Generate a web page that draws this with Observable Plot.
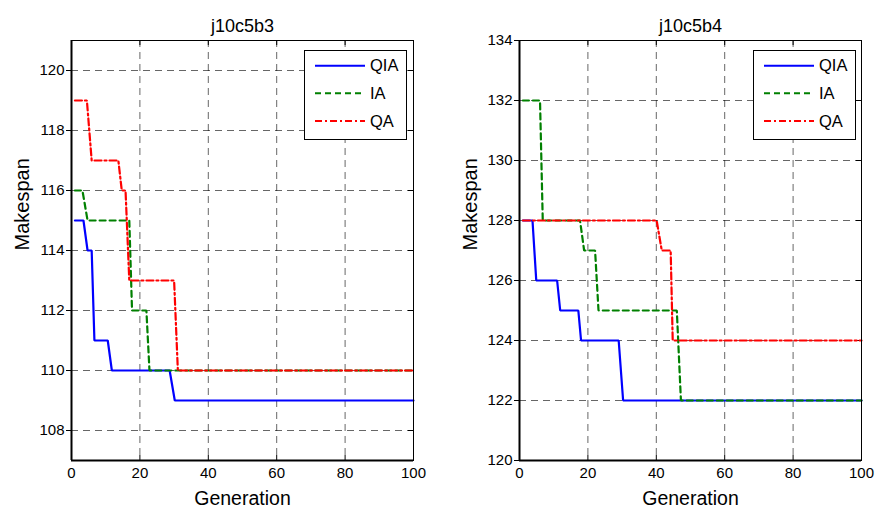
<!DOCTYPE html>
<html><head><meta charset="utf-8">
<script src="https://cdn.jsdelivr.net/npm/d3@7"></script>
<script src="https://cdn.jsdelivr.net/npm/@observablehq/plot@0.6"></script>
<style>
body{margin:0;background:#fff}
#wrap{display:flex;width:880px;height:522px}
</style>
</head><body><div id="wrap"></div>
<script>
const seriesNames = ["QIA", "IA", "QA"];
const seriesColors = ["#0000ff", "#008000", "#ff0000"];
const seriesDash = [null, "6,4", "7,3,2,3"];

const xTicks = [0, 20, 40, 60, 80, 100];

// j10c5b3 (step vertices)
const b3Title = "j10c5b3";
const b3YTicks = [108, 110, 112, 114, 116, 118, 120];
const b3QIAgen = [1, 3.5, 4.7, 5.9, 6.7, 10.6, 11.8, 28.7, 30.2, 100];
const b3QIAval = [115, 115, 114, 114, 111, 111, 110, 110, 109, 109];
const b3IAgen = [1, 3.2, 4.7, 16.9, 17.7, 21.9, 22.8, 100];
const b3IAval = [116, 116, 115, 115, 112, 112, 110, 110];
const b3QAgen = [1, 4.5, 5.9, 13.7, 14.7, 15.8, 16.9, 30, 31.1, 100];
const b3QAval = [119, 119, 117, 117, 116, 116, 113, 113, 110, 110];

// j10c5b4
const b4Title = "j10c5b4";
const b4YTicks = [120, 122, 124, 126, 128, 130, 132, 134];
const b4QIAgen = [1, 3.8, 4.9, 11, 11.9, 17.2, 18, 29, 30.3, 100];
const b4QIAval = [128, 128, 126, 126, 125, 125, 124, 124, 122, 122];
const b4IAgen = [1, 6.0, 6.8, 17.7, 18.9, 22.1, 23.1, 46, 47.2, 100];
const b4IAval = [132, 132, 128, 128, 127, 127, 125, 125, 122, 122];
const b4QAgen = [1, 40.1, 41.6, 44.2, 44.8, 100];
const b4QAval = [128, 128, 127, 127, 124, 124];

const FONT = "'Liberation Sans', Arial, Helvetica, sans-serif";

function legendMark(rightGap) {
  return (index, scales, values, dims) => {
    const bw = 102, bh = 89;
    const x0 = dims.width - dims.marginRight - rightGap - bw;
    const y0 = dims.marginTop + 10;
    const g = d3.create("svg:g");
    g.append("rect").attr("x", x0 + 0.5).attr("y", y0 + 0.5).attr("width", bw).attr("height", bh)
      .attr("fill", "#fff").attr("stroke", "#000").attr("stroke-width", 1);
    const rows = [15.7, 43.3, 71];
    seriesNames.forEach((n, i) => {
      const yy = y0 + rows[i];
      const ln = g.append("line").attr("x1", x0 + 11).attr("x2", x0 + 61).attr("y1", yy).attr("y2", yy)
        .attr("stroke", seriesColors[i]).attr("stroke-width", 2);
      if (seriesDash[i]) ln.attr("stroke-dasharray", seriesDash[i]);
      g.append("text").attr("x", x0 + 66).attr("y", yy).attr("dy", "0.35em")
        .attr("text-anchor", "start")
        .attr("font-size", 16.5).attr("font-family", FONT).attr("fill", "#000").text(n);
    });
    return g.node();
  };
}

function chart(cfg) {
  const data = [];
  cfg.series.forEach((s, i) => s.gen.forEach((g, j) => data.push({series: seriesNames[i], gen: g, val: s.val[j]})));
  const W = 440, H = 522, mt = 40, mb = 62;
  const innerH = H - mt - mb;
  const innerW = W - cfg.ml - cfg.mr;
  const yd = [cfg.yTicks[0] - (cfg.yPadLow || 0), cfg.yTicks[cfg.yTicks.length - 1] + (cfg.yPadHigh || 0)];
  const gridStyle = {stroke: "#000", strokeOpacity: 0.6, strokeDasharray: "7,5", strokeWidth: 1};
  const marks = [
    Plot.ruleX(xTicks.slice(1, -1), gridStyle),
    Plot.ruleY(cfg.yTicks.filter(t => t > yd[0] && t < yd[1]), gridStyle),
    Plot.tickX(xTicks, {x: d => d, insetTop: innerH - 5, stroke: "#000"}),
    Plot.tickX(xTicks, {x: d => d, insetBottom: innerH - 5, stroke: "#000"}),
    Plot.tickY(cfg.yTicks, {y: d => d, insetLeft: innerW - 5, stroke: "#000"}),
    Plot.axisY(cfg.yTicks, {tickSize: 5, tickPadding: 2, label: null, fontSize: 15}),
    Plot.axisX(xTicks, {tickSize: 0, tickPadding: 7, label: null, fontSize: 15})
  ];
  cfg.series.forEach((s, i) => {
    marks.push(Plot.line(data.filter(d => d.series === seriesNames[i]), {
      x: "gen", y: "val", stroke: seriesColors[i], strokeWidth: 2.2,
      strokeDasharray: seriesDash[i] || undefined, strokeLinejoin: "miter"
    }));
  });
  marks.push(
    Plot.frame({stroke: "#000", strokeWidth: 1}),
    Plot.ruleX([0], {stroke: "#000", strokeWidth: 2}),
    Plot.ruleY([yd[0]], {stroke: "#000", strokeWidth: 2}),
    Plot.text([cfg.title], {text: d => d, frameAnchor: "top", dy: -21, fontSize: 18}),
    Plot.text(["Generation"], {text: d => d, frameAnchor: "bottom", dy: 44, fontSize: 19.5}),
    Plot.text(["Makespan"], {text: d => d, frameAnchor: "left", dx: -49, rotate: -90, fontSize: 20}),
    legendMark(cfg.legendGap)
  );
  return Plot.plot({
    width: W, height: H,
    marginLeft: cfg.ml, marginRight: cfg.mr, marginTop: mt, marginBottom: mb,
    x: {domain: [0, 100]},
    y: {domain: yd},
    style: {fontFamily: FONT, fontSize: "15px", color: "#000", background: "#fff", overflow: "visible"},
    marks
  });
}

const wrap = document.getElementById("wrap");
wrap.appendChild(chart({
  title: b3Title, yTicks: b3YTicks, yPadLow: 1, yPadHigh: 1, ml: 71, mr: 27, legendGap: 7,
  series: [{gen: b3QIAgen, val: b3QIAval}, {gen: b3IAgen, val: b3IAval}, {gen: b3QAgen, val: b3QAval}]
}));
wrap.appendChild(chart({
  title: b4Title, yTicks: b4YTicks, yPadLow: 0, yPadHigh: 0, ml: 79, mr: 19, legendGap: 6,
  series: [{gen: b4QIAgen, val: b4QIAval}, {gen: b4IAgen, val: b4IAval}, {gen: b4QAgen, val: b4QAval}]
}));
</script>
</body></html>
